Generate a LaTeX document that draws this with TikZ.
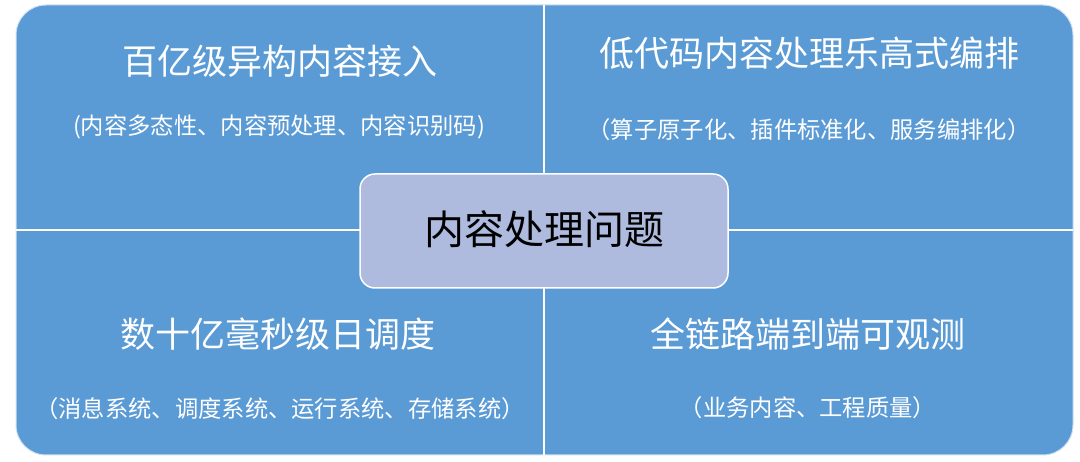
\documentclass[tikz,border=0pt]{standalone}
\usepackage{fontspec}
\newfontfamily\cjk{Noto Sans CJK SC}
\definecolor{bgblue}{HTML}{5B9BD5}
\definecolor{cfill}{HTML}{AEBBDE}
\begin{document}
\begin{tikzpicture}[x=1pt,y=-1pt,
  title/.style={text=white,font=\cjk\fontsize{35}{40}\selectfont,inner sep=0pt},
  sub/.style={text=white,font=\cjk\fontsize{23.3}{28}\selectfont,inner sep=0pt},
  divider/.style={draw=white,line width=2pt}]
\useasboundingbox (0,0) rectangle (1080,462);
\node[draw=white!70!bgblue,line width=1pt,fill=bgblue,rounded corners=30pt,minimum width=1057pt,minimum height=450pt,inner sep=0pt] (bg) at (544.5,230) {};
\coordinate (vt) at (544,5);
\coordinate (vb) at (544,455);
\coordinate (hl) at (16,230);
\coordinate (hr) at (1073,230);
\draw[divider] (vt) -- (vb);
\draw[divider] (hl) -- (hr);
\node[draw=white,line width=1.5pt,fill=cfill,rounded corners=15pt,minimum width=368pt,minimum height=114pt,inner sep=0pt] (center) at (544,231) {};
\node[font=\cjk\fontsize{40}{46}\selectfont,text=black,inner sep=0pt] (ctext) at (544,229) {内容处理问题};
\node[title] (t1) at (280,61) {百亿级异构内容接入};
\node[sub] (s1) at (279,127) {(内容多态性、内容预处理、内容识别码)};
\node[title] (t2) at (809,53) {低代码内容处理乐高式编排};
\node[sub] (s2) at (809,130) {（算子原子化、插件标准化、服务编排化）};
\node[title] (t3) at (278,334) {数十亿毫秒级日调度};
\node[sub] (s3) at (280,409) {（消息系统、调度系统、运行系统、存储系统）};
\node[title] (t4) at (808,334) {全链路端到端可观测};
\node[sub] (s4) at (808,408) {（业务内容、工程质量）};
\end{tikzpicture}
\end{document}
